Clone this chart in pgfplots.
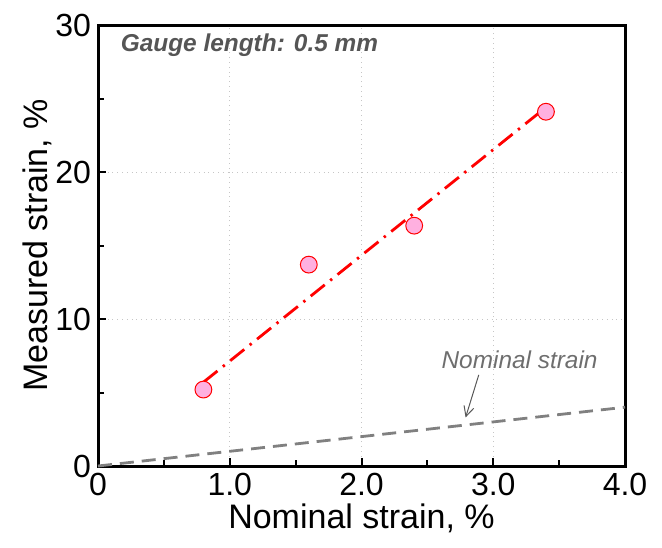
\documentclass[border=0pt]{standalone}
\usepackage{fontspec}
\setmainfont{Liberation Sans}
\usepackage{pgfplots}
\pgfplotsset{compat=1.18}
\usetikzlibrary{arrows.meta}

\definecolor{markfill}{HTML}{FFB0E0}
\definecolor{nomgray}{HTML}{808080}
\definecolor{txtgray}{HTML}{6E6E6E}
\definecolor{gaugegray}{HTML}{555555}

\begin{document}
\begin{tikzpicture}
\begin{axis}[
    scale only axis,
    width=263.5pt, height=220.5pt,
    xmin=0, xmax=4, ymin=0, ymax=30,
    xtick={0,1,2,3,4}, xticklabels={0,1.0,2.0,3.0,4.0},
    ytick={0,10,20,30},
    minor xtick={0.5,1.5,2.5,3.5}, minor ytick={5,15,25},
    tick align=inside, xtick pos=bottom, ytick pos=left,
    major tick length=4pt, minor tick length=3pt,
    every tick/.style={black, line width=1pt},
    axis line style={line width=1.5pt},
    grid=major, major grid style={gray!45, dotted, line width=0.5pt},
    tick label style={font=\fontsize{16}{18}\selectfont},
    /pgf/number format/assume math mode=true,
    xlabel={Nominal strain, \%}, ylabel={Measured strain, \%},
    label style={font=\fontsize{17}{19}\selectfont},
    xlabel style={yshift=3pt}, ylabel style={yshift=-5pt},
    clip=false,
]
% nominal strain line y = x
\addplot[nomgray, line width=1.4pt, dash pattern=on 7pt off 4pt]
  coordinates {(0,0) (4,4)};
% linear fit
\addplot[red, line width=1.4pt, dash pattern=on 9pt off 3.5pt on 1.2pt off 3.5pt]
  coordinates {(0.8,5.7) (3.4,24.4)};
% measurements
\addplot[only marks, mark=*, mark size=4.2pt, mark options={fill=markfill, draw=red, line width=0.5pt}]
  coordinates {(0.8,5.2) (1.6,13.7) (2.4,16.35) (3.4,24.1)};

\node[anchor=west, text=gaugegray, font=\fontsize{12.2}{14}\selectfont\bfseries\itshape]
  at (axis cs:0.12,28.6) {Gauge length: 0.5 mm};
\node[text=txtgray, font=\fontsize{12.2}{14}\selectfont\itshape]
  at (axis cs:3.2,7.2) {Nominal strain};
\draw[-{Straight Barb[length=5pt,width=5pt]}, txtgray!80!black, line width=0.5pt]
  (axis cs:2.89,6.2) -- (axis cs:2.79,3.3);
\end{axis}
\path (current axis.south west) ++(-49pt,-40.5pt) rectangle ++(331pt,273.5pt);
\end{tikzpicture}
\end{document}
